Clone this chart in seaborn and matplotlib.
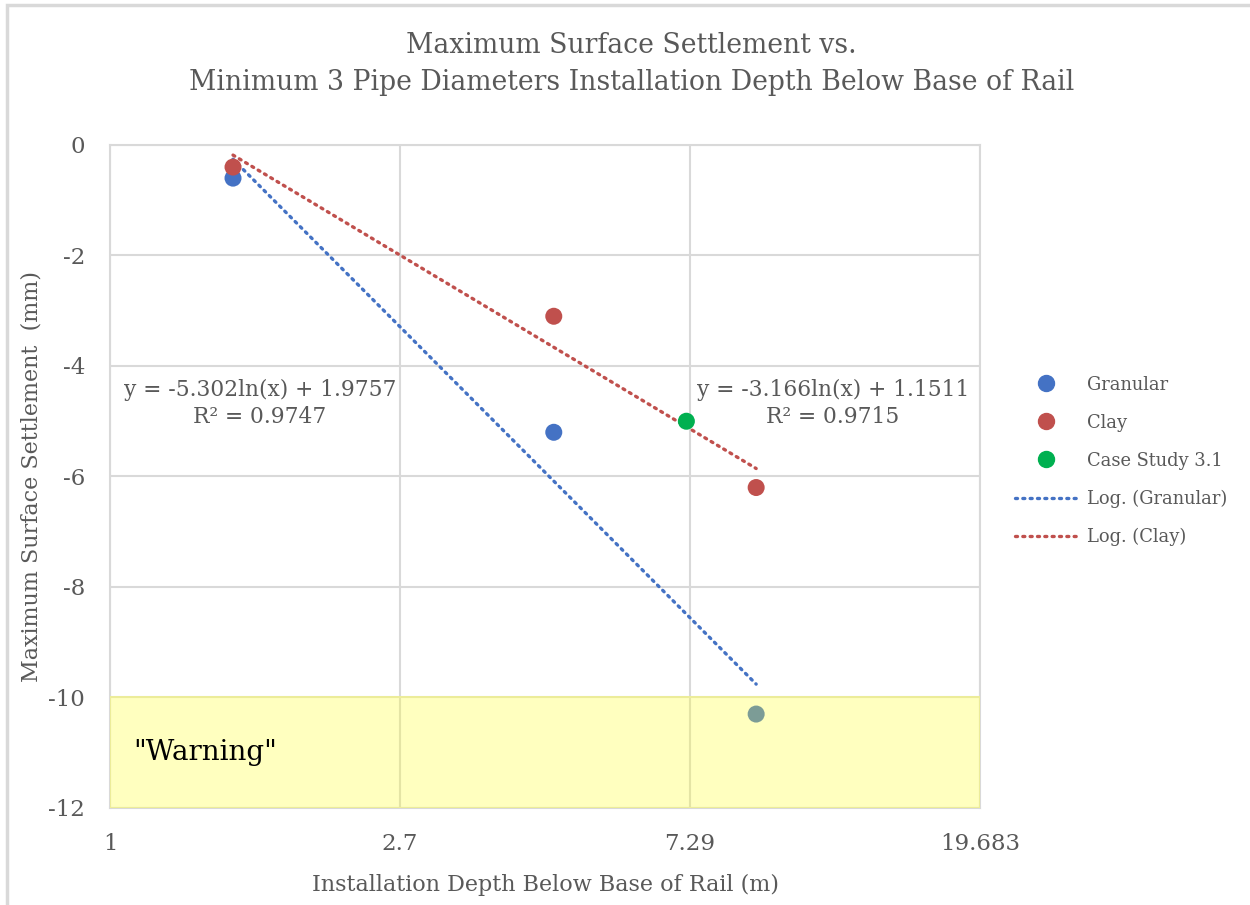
import numpy as np
import pandas as pd
import matplotlib
matplotlib.use("Agg")
import matplotlib.pyplot as plt
from matplotlib.patches import Rectangle
from matplotlib.lines import Line2D
import seaborn as sns

# Measured settlements (mm) against installation depth (m)
granular_depth = [1.524, 4.572, 9.144]
granular_settle = [-0.6, -5.2, -10.3]
clay_depth = [1.524, 4.572, 9.144]
clay_settle = [-0.4, -3.1, -6.2]
case_depth = [7.2]
case_settle = [-5.0]

# Logarithmic trendline coefficients: y = a*ln(x) + b, with R²
granular_fit = (-5.302, 1.9757, 0.9747)
clay_fit = (-3.166, 1.1511, 0.9715)

x_ticks = [1, 2.7, 7.29, 19.683]
x_tick_labels = ["1", "2.7", "7.29", "19.683"]
y_ticks = [0, -2, -4, -6, -8, -10, -12]

BLUE = "#4472C4"
RED = "#C0504D"
GREEN = "#00B050"
TEXT = "#595959"
GRID = "#D9D9D9"
DOTS = (0, (0.6, 1.6))

sns.set_theme(style="white")
plt.rcParams["font.family"] = ["DejaVu Serif"]

fig = plt.figure(figsize=(12.5, 9.05), dpi=100)
ax = fig.add_axes([0.088, 0.1072, 0.696, 0.7326])

# outer chart frame
fig.patches.append(Rectangle((7 / 1250, -0.05), 1.1, 1 - 5 / 905 + 0.05,
                             transform=fig.transFigure, fill=False,
                             edgecolor=GRID, linewidth=2.5, zorder=0))

points = pd.concat([
    pd.DataFrame({"depth": granular_depth, "settle": granular_settle, "series": "Granular"}),
    pd.DataFrame({"depth": clay_depth, "settle": clay_settle, "series": "Clay"}),
    pd.DataFrame({"depth": case_depth, "settle": case_settle, "series": "Case Study 3.1"}),
], ignore_index=True)

palette = {"Granular": BLUE, "Clay": RED, "Case Study 3.1": GREEN}

# trendlines evaluated over each series' depth span
def trend(depths, fit, name):
    xs = np.geomspace(min(depths), max(depths), 60)
    return pd.DataFrame({"depth": xs, "settle": fit[0] * np.log(xs) + fit[1], "series": name})

trends = pd.concat([trend(granular_depth, granular_fit, "Log. (Granular)"),
                    trend(clay_depth, clay_fit, "Log. (Clay)")], ignore_index=True)

for name, col in [("Log. (Granular)", BLUE), ("Log. (Clay)", RED)]:
    sns.lineplot(data=trends[trends.series == name], x="depth", y="settle",
                 color=col, linestyle=DOTS, linewidth=2.4,
                 dash_capstyle="round", ax=ax, legend=False, zorder=3)

sns.scatterplot(data=points, x="depth", y="settle", hue="series", palette=palette,
                s=150, edgecolor="none", ax=ax, legend=False, zorder=4)

ax.set_xscale("log", base=2.7)
ax.set_xlim(1, 19.683)
ax.set_ylim(-12, 0)
ax.set_xticks(x_ticks)
ax.set_xticklabels(x_tick_labels)
ax.xaxis.set_minor_locator(matplotlib.ticker.NullLocator())
ax.set_yticks(y_ticks)
ax.set_yticklabels([str(v) for v in y_ticks])
ax.grid(True, color=GRID, linewidth=1.5)
ax.set_axisbelow(True)
for sp in ax.spines.values():
    sp.set_color(GRID)
    sp.set_linewidth(1.5)
ax.tick_params(axis="both", length=0, labelsize=16.5, colors=TEXT)
ax.tick_params(axis="x", pad=18)
ax.tick_params(axis="y", pad=18)

# warning band over the lowest settlements
ax.add_patch(Rectangle((1, -12), 19.683 - 1, 2, facecolor=(1.0, 1.0, 0.18, 0.3),
                       edgecolor=(0.93, 0.93, 0.6), linewidth=1.4, zorder=5))
ax.text(1.082, -11.0, '"Warning"', fontsize=20, color="black", va="center", ha="left", zorder=6)

ax.set_xlabel("Installation Depth Below Base of Rail (m)", fontsize=16, color=TEXT)
ax.xaxis.set_label_coords(0.5, -0.0994)
ax.set_ylabel("Maximum Surface Settlement  (mm)", fontsize=16, color=TEXT)
ax.yaxis.set_label_coords(-0.078, 0.5)

fig.text(0.505, 0.950, "Maximum Surface Settlement vs.", ha="center", va="center",
         fontsize=19.2, color=TEXT)
fig.text(0.505, 0.909, "Minimum 3 Pipe Diameters Installation Depth Below Base of Rail",
         ha="center", va="center", fontsize=19.2, color=TEXT)

# trendline equations
def eq_text(fit):
    return f"y = {fit[0]}ln(x) + {fit[1]}\nR\u00b2 = {fit[2]}"

ax.text(1.67, -4.68, eq_text(granular_fit), ha="center", va="center", fontsize=15.7,
        color=TEXT, linespacing=1.25, zorder=6)
ax.text(11.9, -4.68, eq_text(clay_fit), ha="center", va="center", fontsize=15.7,
        color=TEXT, linespacing=1.25, zorder=6)

handles = [
    Line2D([], [], linestyle="none", marker="o", markersize=11.5, color=BLUE),
    Line2D([], [], linestyle="none", marker="o", markersize=11.5, color=RED),
    Line2D([], [], linestyle="none", marker="o", markersize=11.5, color=GREEN),
    Line2D([], [], color=BLUE, linestyle=DOTS, linewidth=2.4, dash_capstyle="round"),
    Line2D([], [], color=RED, linestyle=DOTS, linewidth=2.4, dash_capstyle="round"),
]
labels = ["Granular", "Clay", "Case Study 3.1", "Log. (Granular)", "Log. (Clay)"]
leg = fig.legend(handles, labels, loc="center left", bbox_to_anchor=(0.799, 0.4906),
                 frameon=False, fontsize=12.9, handlelength=3.45, handletextpad=0.58,
                 labelspacing=1.12, labelcolor=TEXT)

fig.savefig("out.png", dpi=100, facecolor="white")
